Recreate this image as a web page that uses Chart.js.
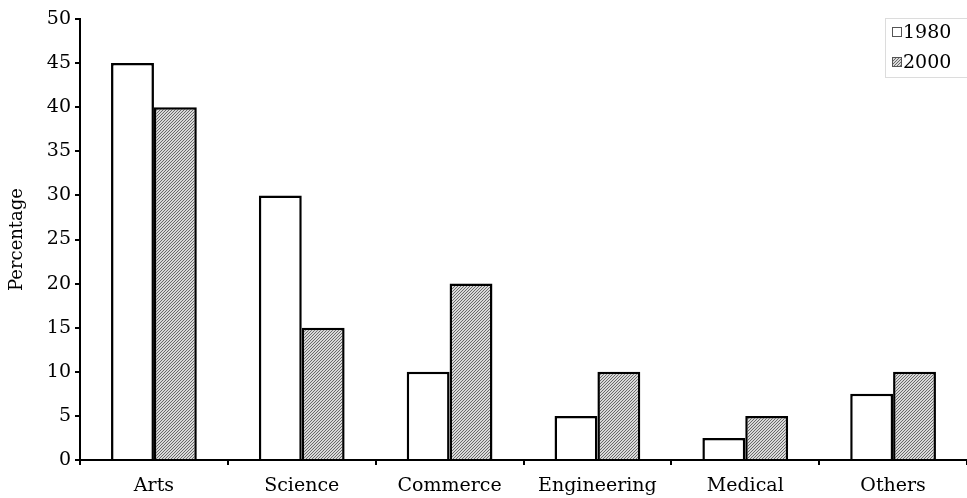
<!DOCTYPE html>
<html>
<head>
<meta charset="utf-8">
<script src="https://cdn.jsdelivr.net/npm/chart.js@4"></script>
<style>
  body { margin: 0; background: #fff; }
</style>
</head>
<body>
<canvas id="myChart" width="967" height="498"></canvas>
<script>
const categories = ['Arts', 'Science', 'Commerce', 'Engineering', 'Medical', 'Others'];
const values1980 = [45, 30, 10, 5, 2.5, 7.5];
const values2000 = [40, 15, 20, 10, 5, 10];
const seriesNames = ['1980', '2000'];

const serif = "'DejaVu Serif', 'Liberation Serif', serif";

// fine hatched fill for the 2000 bars
function hatch() {
  const c = document.createElement('canvas');
  c.width = 3; c.height = 3;
  const g = c.getContext('2d');
  g.fillStyle = '#d9d9d9';
  g.fillRect(0, 0, 3, 3);
  g.fillStyle = '#6a6a6a';
  g.fillRect(2, 0, 1, 1);
  g.fillRect(1, 1, 1, 1);
  g.fillRect(0, 2, 1, 1);
  return g.createPattern(c, 'repeat');
}
const hatchFill = hatch();

// boxed legend in the top right corner
const boxLegend = {
  id: 'boxLegend',
  afterDraw(chart) {
    const ctx = chart.ctx;
    const x = 885, y = 18, w = 82, h = 59;
    ctx.save();
    ctx.strokeStyle = '#dcdcdc';
    ctx.lineWidth = 1;
    ctx.strokeRect(x + 0.5, y + 0.5, w, h);
    ctx.font = '19px ' + serif;
    ctx.textBaseline = 'middle';
    chart.data.datasets.forEach((ds, i) => {
      const cy = y + 14 + i * 30;
      ctx.fillStyle = ds.backgroundColor;
      ctx.fillRect(x + 7, cy - 5, 10, 10);
      ctx.strokeStyle = '#555';
      ctx.strokeRect(x + 7.5, cy - 4.5, 9, 9);
      ctx.fillStyle = '#000';
      ctx.fillText(ds.label, x + 18, cy + 1);
    });
    ctx.restore();
  }
};

new Chart(document.getElementById('myChart'), {
  type: 'bar',
  data: {
    labels: categories,
    datasets: [
      {
        label: seriesNames[0],
        data: values1980,
        backgroundColor: '#ffffff',
        borderColor: '#000',
        borderWidth: 2.5,
        borderSkipped: 'bottom'
      },
      {
        label: seriesNames[1],
        data: values2000,
        backgroundColor: hatchFill,
        borderColor: '#000',
        borderWidth: 2.5,
        borderSkipped: 'bottom'
      }
    ]
  },
  options: {
    responsive: false,
    animation: false,
    layout: { padding: { top: 19, right: 0, bottom: 0, left: 0 } },
    datasets: {
      bar: { categoryPercentage: 0.58, barPercentage: 1 }
    },
    plugins: {
      legend: { display: false },
      tooltip: { enabled: false }
    },
    scales: {
      y: {
        min: 0,
        max: 50,
        afterFit(scale) { scale.width = 80; },
        ticks: {
          stepSize: 5,
          color: '#000',
          padding: 4,
          font: { family: serif, size: 19 }
        },
        grid: {
          drawOnChartArea: false,
          tickLength: 5,
          color: '#000',
          tickColor: '#000',
          lineWidth: 2
        },
        border: { color: '#000', width: 2 },
        title: {
          display: true,
          text: 'Percentage',
          color: '#000',
          padding: { top: 7, bottom: 0 },
          font: { family: serif, size: 18 }
        }
      },
      x: {
        afterFit(scale) { scale.height = 38; },
        ticks: {
          color: '#000',
          padding: 10,
          font: { family: serif, size: 19 }
        },
        grid: {
          offset: true,
          drawOnChartArea: false,
          tickLength: 5,
          color: '#000',
          tickColor: '#000',
          lineWidth: 2
        },
        border: { color: '#000', width: 2 }
      }
    }
  },
  plugins: [boxLegend]
});
</script>
</body>
</html>
